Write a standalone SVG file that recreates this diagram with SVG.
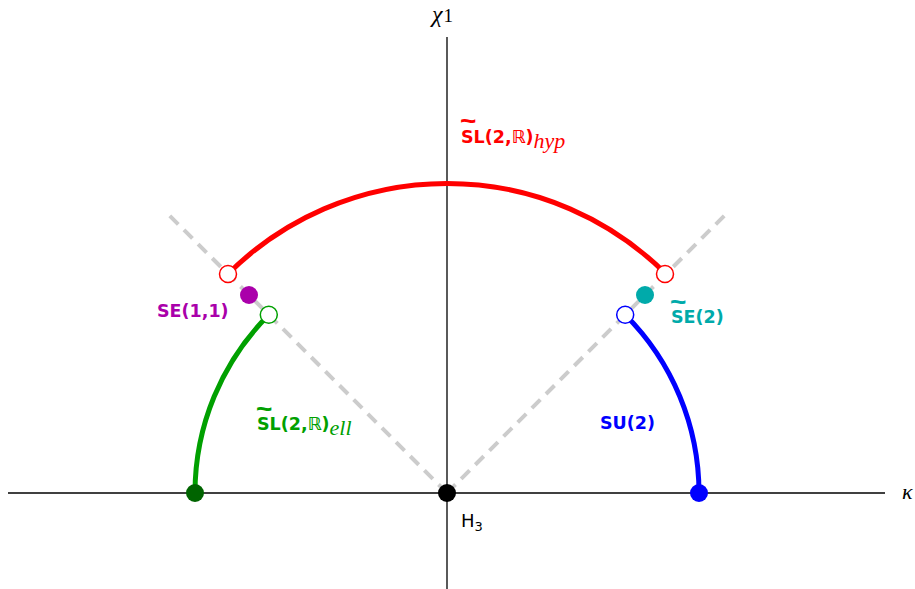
<svg xmlns="http://www.w3.org/2000/svg" width="915" height="589" viewBox="0 0 915 589">
<style>
.axis{stroke:#000;stroke-width:1.3;fill:none}
.dash{stroke:#cccccc;stroke-width:4;stroke-dasharray:12 8;fill:none}
.arc{stroke-width:5;fill:none}
.open{fill:#fff;stroke-width:1.5}
.lbl{font-family:"DejaVu Sans","Liberation Sans",sans-serif;font-size:17.5px;font-weight:bold}
.plain{font-family:"DejaVu Sans","Liberation Sans",sans-serif;font-size:18px}
.sub{font-family:"Liberation Serif","Times New Roman",serif;font-style:italic;font-size:22px;font-weight:normal}
.til{font-family:"Liberation Sans",Arial,sans-serif;font-size:28px;font-weight:bold}
.math{font-family:"Liberation Serif","Times New Roman",serif;font-style:italic}
</style>
<rect width="915" height="589" fill="#fff"/>
<g id="axes">
<line class="axis" x1="8" y1="493" x2="885" y2="493"/>
<line class="axis" x1="447" y1="37" x2="447" y2="589"/>
<text class="math" x="432" y="22" font-size="24">χ<tspan font-style="normal" font-size="19" dx="1">1</tspan></text>
<text class="math" x="902" y="499" font-size="22">κ</text>
</g>
<g id="connectors">
<line class="dash" x1="447" y1="493" x2="165" y2="211"/>
<line class="dash" x1="447" y1="493" x2="729" y2="211"/>
<path class="arc" stroke="#ff0000" d="M 228 274 A 310 310 0 0 1 666 274"/>
<path class="arc" stroke="#00a000" d="M 195 493 A 252 252 0 0 1 268.8 314.8"/>
<path class="arc" stroke="#0000ff" d="M 625.2 314.8 A 252 252 0 0 1 699 493"/>
</g>
<g id="node-H3">
<circle cx="447" cy="493" r="9" fill="#000"/>
<text class="plain" x="461" y="527">H<tspan font-size="13" dy="4">3</tspan></text>
</g>
<g id="node-sl2-left-end">
<circle cx="195" cy="493" r="9" fill="#006400"/>
</g>
<g id="node-su2-end">
<circle cx="699" cy="493" r="9" fill="#0000ff"/>
</g>
<g id="node-red-left">
<circle class="open" cx="228" cy="274" r="8.5" stroke="#ff0000"/>
</g>
<g id="node-red-right">
<circle class="open" cx="665" cy="274" r="8.5" stroke="#ff0000"/>
</g>
<g id="node-green-open">
<circle class="open" cx="268.8" cy="314.8" r="8.5" stroke="#00a000"/>
</g>
<g id="node-blue-open">
<circle class="open" cx="625.2" cy="314.8" r="8.5" stroke="#0000ff"/>
</g>
<g id="node-SE11">
<circle cx="249" cy="295" r="9" fill="#aa00aa"/>
<text class="lbl" x="157" y="317" fill="#aa00aa">SE(1,1)</text>
</g>
<g id="node-SE2">
<circle cx="645" cy="295" r="9" fill="#00aaaa"/>
<text class="til" x="670" y="310.5" fill="#00aaaa">~</text>
<text class="lbl" x="671" y="323" fill="#00aaaa">SE(2)</text>
</g>
<g id="label-hyp">
<text class="til" x="460" y="129.5" fill="#ff0000">~</text>
<text class="lbl" x="461" y="143" fill="#ff0000">SL(2,ℝ)<tspan class="sub" dy="5">hyp</tspan></text>
</g>
<g id="label-ell">
<text class="til" x="256" y="417.5" fill="#00a000">~</text>
<text class="lbl" x="257" y="430" fill="#00a000">SL(2,ℝ)<tspan class="sub" dy="5">ell</tspan></text>
</g>
<g id="label-SU2">
<text class="lbl" x="600" y="429" fill="#0000ff">SU(2)</text>
</g>
</svg>
